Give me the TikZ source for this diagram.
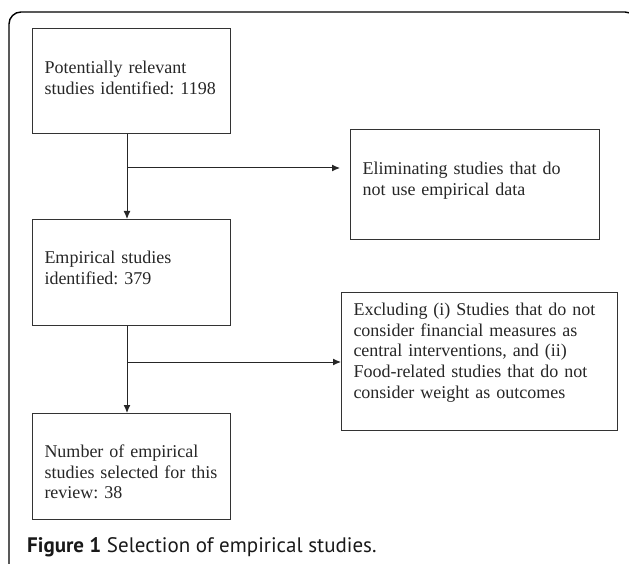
\documentclass[tikz,border=0pt]{standalone}
\usepackage{fontspec}
\setmainfont{Liberation Serif}
\newfontfamily\capfont{PT Sans}
\usetikzlibrary{arrows.meta}
\frenchspacing

\tikzset{
  stepbox/.style={draw=black!80, line width=1pt, rectangle, anchor=north west,
    inner xsep=12pt, inner ysep=0pt, align=left, text=black!85,
    font=\fontsize{18}{20.7}\selectfont},
  flow/.style={draw=black!85, line width=1pt, -{Latex[length=8pt,width=7pt]}}
}

\begin{document}
\begin{tikzpicture}[x=1pt,y=-1pt]
    \useasboundingbox (0,0) rectangle (629,564);

    % Draw the frame
    \draw[line width=1.4pt, rounded corners=12pt] (9,570) -- (9,12) -- (637,12) -- (637,40);

    % Draw the main boxes
    \node[stepbox, text width=174pt, text height=45pt, text depth=60pt] (found) at (32,28)
      {Potentially relevant\\studies identified: 1198};
    \node[stepbox, text width=174pt, text height=44pt, text depth=62pt] (empir) at (32,219)
      {Empirical studies\\identified: 379};
    \node[stepbox, text width=174pt, text height=44pt, text depth=62pt] (select) at (32,413)
      {Number of empirical\\studies selected for this\\review: 38};

    % Draw the side boxes
    \node[stepbox, text width=225pt, text height=45pt, text depth=65pt] (elim) at (350,129)
      {Eliminating studies that do\\not use empirical data};
    \node[stepbox, text width=252pt, text height=23pt, text depth=115pt] (excl) at (341,292)
      {Excluding (i) Studies that do not\\consider financial measures as\\central interventions, and (ii)\\Food-related studies that do not\\consider weight as outcomes};

    % Draw the arrows
    \coordinate (b1) at (127,168);
    \coordinate (b2) at (127,362);
    \foreach \From/\To in {found/empir, empir/select}
    \draw[flow] (\From.south -| b1) -- (\To.north -| b1);

    \draw[flow, shorten >=10pt] (b1) -- (b1 -| elim.west);
    \draw[flow] (b2) -- (b2 -| excl.west);

    % Caption
    \node[anchor=base west, inner sep=0pt, font=\capfont\fontsize{21}{24}\selectfont, text=black!90] (cap) at (27,552)
      {\textbf{Figure 1} Selection of empirical studies.};

  \end{tikzpicture}
\end{document}
